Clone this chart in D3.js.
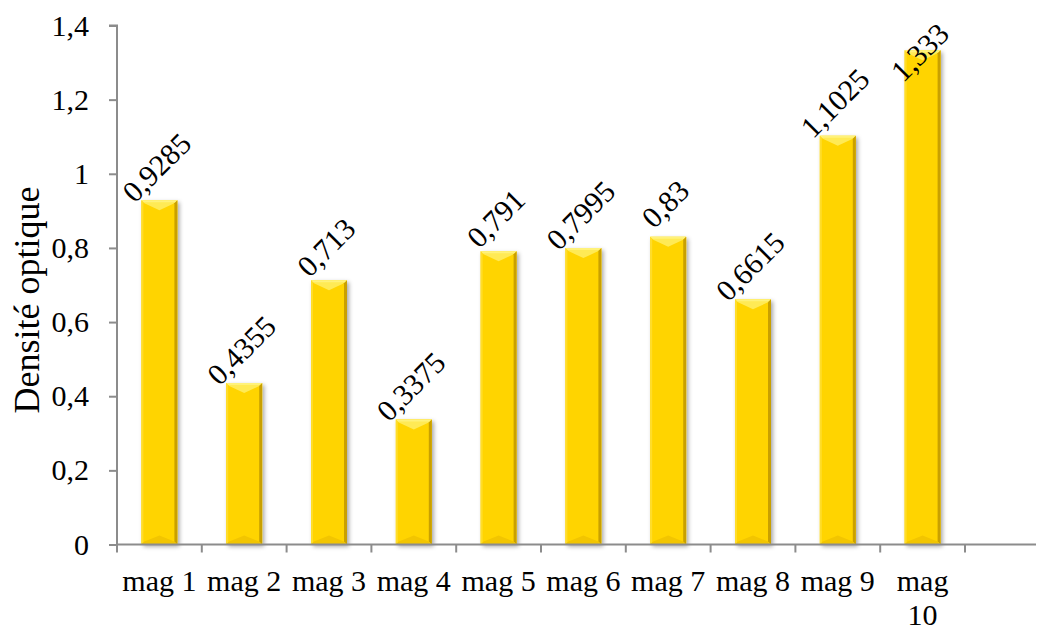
<!DOCTYPE html>
<html>
<head>
<meta charset="utf-8">
<script src="https://cdn.jsdelivr.net/npm/d3@7"></script>
<style>
  html, body { margin: 0; padding: 0; background: #fff; }
  svg { display: block; font-family: "Liberation Serif", "Times New Roman", serif; }
</style>
</head>
<body>
<svg id="chart" width="1038" height="629"></svg>
<script>
// Optical density per sample
const categories = ["mag 1", "mag 2", "mag 3", "mag 4", "mag 5", "mag 6", "mag 7", "mag 8", "mag 9", "mag 10"];
const values = [0.9285, 0.4355, 0.713, 0.3375, 0.791, 0.7995, 0.83, 0.6615, 1.1025, 1.333];
const valueLabels = ["0,9285", "0,4355", "0,713", "0,3375", "0,791", "0,7995", "0,83", "0,6615", "1,1025", "1,333"];
const yTicks = [0, 0.2, 0.4, 0.6, 0.8, 1, 1.2, 1.4];
const yTitle = "Densité optique";

const W = 1038, H = 629;
const plotLeft = 117, plotTop = 25.5, plotBottom = 544.5;
const bandStep = 84.8;
const fontSize = 30;

const svg = d3.select("#chart");
const fmt = d => d3.format(".1f")(d).replace(".", ",").replace(/,0$/, "");

// one empty slot after the last sample, as on the category axis
const slots = categories.concat([""]);
const x = d3.scaleBand()
  .domain(slots)
  .range([plotLeft, plotLeft + bandStep * slots.length])
  .paddingInner(0)
  .paddingOuter(0);

const y = d3.scaleLinear().domain([0, 1.4]).range([plotBottom, plotTop]);

// shadow filter for the bars
const defs = svg.append("defs");
const f = defs.append("filter").attr("id", "shadow")
  .attr("x", "-30%").attr("y", "-10%").attr("width", "160%").attr("height", "130%");
f.append("feDropShadow").attr("dx", 2).attr("dy", 2).attr("stdDeviation", 2)
  .attr("flood-color", "#000").attr("flood-opacity", 0.35);

// ---- axes ----
const axisColor = "#8c8c8c";

// y axis
const yAxis = svg.append("g").attr("transform", `translate(${plotLeft},0)`)
  .call(d3.axisLeft(y).tickValues(yTicks).tickFormat(fmt).tickSize(8).tickPadding(20));
yAxis.select(".domain").attr("stroke", axisColor).attr("stroke-width", 2)
  .attr("d", `M-8,${y(1.4)}H0V${y(0)}`);
yAxis.selectAll(".tick line").attr("stroke", axisColor).attr("stroke-width", 2);
yAxis.selectAll(".tick text")
  .attr("font-family", "Liberation Serif, serif")
  .attr("font-size", fontSize).attr("fill", "#000");

// bars
const bw = 36;
const bev = 8;
const barG = svg.append("g");
categories.forEach((c, i) => {
  const cx = x(c) + x.bandwidth() / 2;
  const x0 = cx - bw / 2, x1 = cx + bw / 2;
  const y0 = y(values[i]), y1 = y(0);
  const g = barG.append("g");
  g.append("rect").attr("x", x0).attr("y", y0).attr("width", bw).attr("height", y1 - y0)
    .attr("fill", "#FFD400").attr("filter", "url(#shadow)");
  const b = Math.min(bev, (y1 - y0) / 2);
  // top bevel
  g.append("path").attr("d", `M${x0},${y0}L${x1},${y0}L${x1 - 3},${y0 + 3}L${cx},${y0 + b + 2}L${x0 + 3},${y0 + 3}Z`)
    .attr("fill", "#FFEA55");
  g.append("path").attr("d", `M${x0},${y0}L${x1},${y0}L${x1 - 2},${y0 + 2}L${x0 + 2},${y0 + 2}Z`)
    .attr("fill", "#FFF27A");
  // left bevel
  g.append("path").attr("d", `M${x0},${y0}L${x0 + 2},${y0 + 2}L${x0 + 2},${y1 - 2}L${x0},${y1}Z`)
    .attr("fill", "#FFDD2A");
  // right bevel
  g.append("path").attr("d", `M${x1},${y0}L${x1 - 3},${y0 + 3}L${x1 - 3},${y1 - 3}L${x1},${y1}Z`)
    .attr("fill", "#C9A000");
  // bottom bevel
  g.append("path").attr("d", `M${x0},${y1}L${x1},${y1}L${x1 - 3},${y1 - 3}L${cx},${y1 - b - 1}L${x0 + 3},${y1 - 3}Z`)
    .attr("fill", "#F2C500");
});

// x axis
const xAxis = svg.append("g").attr("transform", `translate(0,${plotBottom})`);
xAxis.append("line").attr("x1", plotLeft - 1).attr("x2", W - 2).attr("y1", 0).attr("y2", 0)
  .attr("stroke", axisColor).attr("stroke-width", 2);
slots.forEach(s => {
  const xb = x(s);
  xAxis.append("line").attr("x1", xb).attr("x2", xb).attr("y1", 0).attr("y2", 8)
    .attr("stroke", axisColor).attr("stroke-width", 2);
});

// category labels, wrapped when wider than a band
categories.forEach(c => {
  const cx = x(c) + x.bandwidth() / 2;
  const t = xAxis.append("text").attr("x", cx).attr("y", 46)
    .attr("text-anchor", "middle").attr("font-size", fontSize).attr("fill", "#000").text(c);
  if (t.node().getComputedTextLength() > x.bandwidth() - 2) {
    const words = c.split(" ");
    t.text(null);
    words.forEach((w, k) => {
      t.append("tspan").attr("x", cx).attr("dy", k === 0 ? 0 : 34).text(w);
    });
  }
});

// value labels, rotated
categories.forEach((c, i) => {
  const cx = x(c) + x.bandwidth() / 2 - 3;
  const cy = Math.max(y(values[i]) - 33, 52);
  svg.append("text")
    .attr("transform", `translate(${cx},${cy}) rotate(-45)`)
    .attr("text-anchor", "middle").attr("dominant-baseline", "central")
    .attr("font-size", fontSize).attr("fill", "#000")
    .text(valueLabels[i]);
});

// y title
svg.append("text")
  .attr("transform", `translate(27,300) rotate(-90)`)
  .attr("text-anchor", "middle").attr("dominant-baseline", "central")
  .attr("font-size", 36).attr("fill", "#000")
  .text(yTitle);
</script>
</body>
</html>
